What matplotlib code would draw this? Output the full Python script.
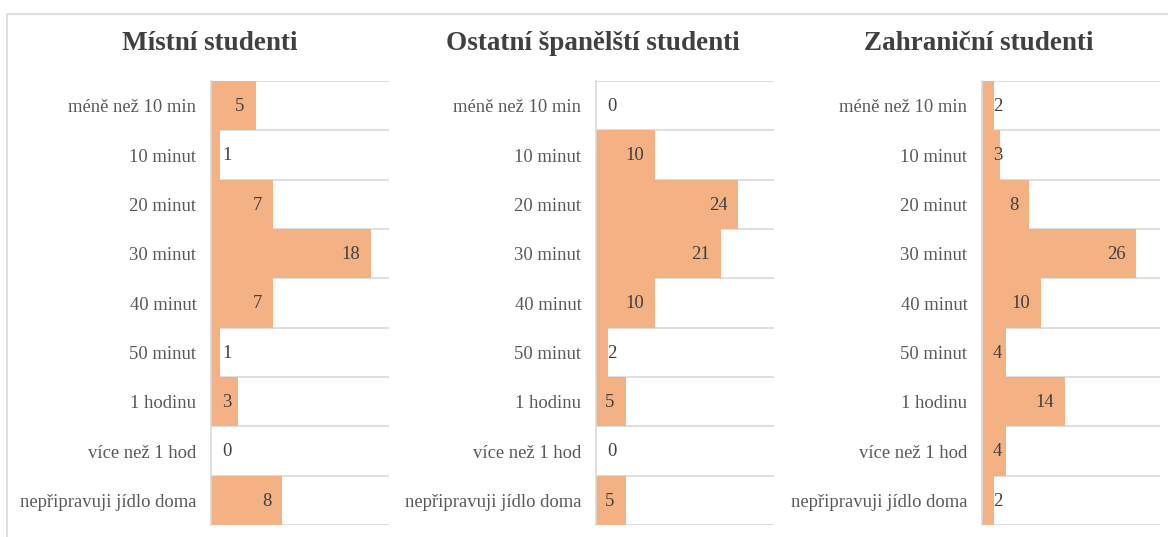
import matplotlib.pyplot as plt
from matplotlib.patches import Rectangle
from matplotlib.transforms import offset_copy

plt.rcParams['font.family'] = ['Liberation Serif', 'DejaVu Serif']

# Données
kategorie = ['méně než 10 min', '10 minut', '20 minut', '30 minut', '40 minut',
             '50 minut', '1 hodinu', 'více než 1 hod', 'nepřipravuji jídlo doma']
mistni = [5, 1, 7, 18, 7, 1, 3, 0, 8]
ostatni = [0, 10, 24, 21, 10, 2, 5, 0, 5]
zahranicni = [2, 3, 8, 26, 10, 4, 14, 4, 2]

titulky = ['Místní studenti', 'Ostatní španělští studenti', 'Zahraniční studenti']
serie = [mistni, ostatni, zahranicni]
xmax = [20, 30, 30]

# Rozvržení panelů (v souřadnicích obrázku)
W, H = 1168, 537
lefts = [211, 596, 982]
title_x = [210, 593, 979]
ax_w = 178
top, bottom = 81, 525

bar_col = '#F4B183'
grid_col = '#D9D9D9'
text_col = '#595959'

fig = plt.figure(figsize=(W / 100, H / 100), dpi=100)

# vnější rámeček
fig.patches.append(Rectangle((7 / W, -0.1), 1.2, 1 - 14 / H + 0.1, transform=fig.transFigure,
                             fill=False, edgecolor=grid_col, linewidth=1.2))

for i in range(3):
    ax = fig.add_axes([lefts[i] / W, 1 - bottom / H, ax_w / W, (bottom - top) / H])
    vals = serie[i]
    y = list(range(len(kategorie)))
    ax.barh(y, vals, height=1.0, color=bar_col, zorder=2)
    ax.set_xlim(0, xmax[i])
    ax.set_ylim(len(kategorie) - 0.5, -0.5)
    ax.set_yticks(y)
    ax.set_yticklabels(kategorie, fontsize=13.4, color=text_col)
    ax.tick_params(axis='y', length=0, pad=10.5)
    ax.set_xticks([])
    for s in ['top', 'right', 'bottom']:
        ax.spines[s].set_visible(False)
    ax.spines['left'].set_color(grid_col)
    ax.spines['left'].set_linewidth(1.2)
    for b in range(len(kategorie) + 1):
        ax.axhline(b - 0.5, color=grid_col, linewidth=1.2, zorder=1)

    px_per_unit = ax_w / xmax[i]
    for yy, v in zip(y, vals):
        if v * px_per_unit > 28:
            tr = offset_copy(ax.transData, fig=fig, x=-11, y=-1, units='dots')
            ax.text(v, yy, str(v), transform=tr, ha='right', va='center',
                    fontsize=13.4, color='#404040', zorder=3)
        else:
            tr = offset_copy(ax.transData, fig=fig, x=11, y=-1, units='dots')
            ax.text(0, yy, str(v), transform=tr, ha='left', va='center',
                    fontsize=13.4, color='#404040', zorder=3)

    fig.text(title_x[i] / W, 1 - 44 / H, titulky[i], ha='center', va='center',
             fontsize=19.5, fontweight='bold', color='#404040')

fig.savefig('out.png', dpi=100)
